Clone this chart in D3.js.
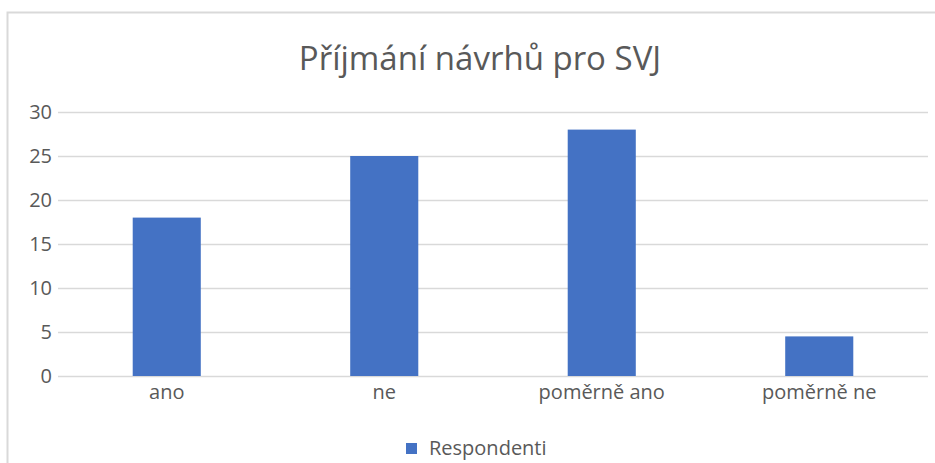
<!DOCTYPE html>
<html>
<head>
<meta charset="utf-8">
<title>Příjmání návrhů pro SVJ</title>
<script src="https://d3js.org/d3.v7.min.js"></script>
<style>
  body { margin: 0; background: #fff; }
  text { font-family: "Open Sans", "Noto Sans", sans-serif; fill: #595959; }
</style>
</head>
<body>
<div class="chart"></div>
<script>
const categories = ["ano", "ne", "poměrně ano", "poměrně ne"];
const values = [18, 25, 28, 4.5];
const yTicks = [0, 5, 10, 15, 20, 25, 30];
const seriesName = "Respondenti";
const chartTitle = "Příjmání návrhů pro SVJ";

const width = 935, height = 463;
const margin = {top: 112, right: 7, bottom: 87, left: 58};

const svg = d3.select(".chart").append("svg")
  .attr("width", width)
  .attr("height", height);

// chart frame
svg.append("rect")
  .attr("x", 7.5).attr("y", 12.5)
  .attr("width", width + 10).attr("height", height)
  .attr("fill", "none")
  .attr("stroke", "#d9d9d9")
  .attr("stroke-width", 2);

const x = d3.scaleBand()
  .domain(categories)
  .range([margin.left, width - margin.right])
  .paddingInner(0.687)
  .paddingOuter(0.3435);

const y = d3.scaleLinear()
  .domain([0, 30])
  .range([height - margin.bottom, margin.top]);

// gridlines
svg.append("g")
  .selectAll("line")
  .data(yTicks)
  .join("line")
  .attr("x1", margin.left)
  .attr("x2", width - margin.right)
  .attr("y1", d => Math.round(y(d)) + 0.5)
  .attr("y2", d => Math.round(y(d)) + 0.5)
  .attr("stroke", "#d9d9d9")
  .attr("stroke-width", 1.5);

// y axis labels
const yAxis = svg.append("g")
  .attr("transform", `translate(${margin.left},0)`)
  .call(d3.axisLeft(y).tickValues(yTicks).tickSize(0).tickPadding(6));
yAxis.select(".domain").remove();
yAxis.selectAll("text")
  .attr("font-size", "20px")
  .style("font-family", '"Open Sans", "Noto Sans", sans-serif')
  .attr("fill", "#595959");

// bars
svg.append("g")
  .selectAll("rect")
  .data(values)
  .join("rect")
  .attr("x", (d, i) => x(categories[i]))
  .attr("y", d => y(d))
  .attr("width", x.bandwidth())
  .attr("height", d => y(0) - y(d))
  .attr("fill", "#4472c4");

// x axis labels
const xAxis = svg.append("g")
  .attr("transform", `translate(0,${y(0)})`)
  .call(d3.axisBottom(x).tickSize(0).tickPadding(9));
xAxis.select(".domain").remove();
xAxis.selectAll("text")
  .attr("font-size", "20px")
  .style("font-family", '"Open Sans", "Noto Sans", sans-serif')
  .attr("fill", "#595959");

// title
svg.append("text")
  .attr("x", 480)
  .attr("y", 70)
  .attr("text-anchor", "middle")
  .attr("font-size", "33px")
  .text(chartTitle);

// legend
const legend = svg.append("g").attr("transform", "translate(406,443)");
legend.append("rect")
  .attr("width", 11).attr("height", 11)
  .attr("fill", "#4472c4");
legend.append("text")
  .attr("x", 23)
  .attr("y", 12)
  .attr("font-size", "20px")
  .text(seriesName);
</script>
</body>
</html>
